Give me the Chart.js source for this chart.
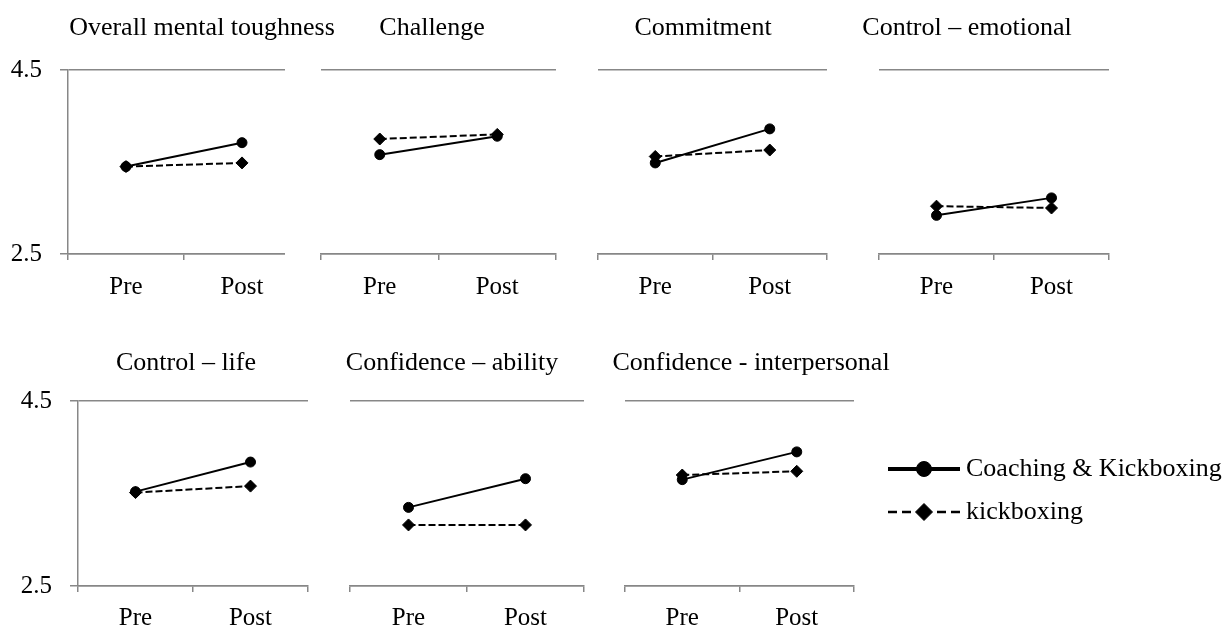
<!DOCTYPE html>
<html>
<head>
<meta charset="utf-8">
<script src="https://cdn.jsdelivr.net/npm/chart.js@4.4.1/dist/chart.umd.min.js"></script>
<style>
  html, body { margin: 0; padding: 0; background: #ffffff; }
  body { width: 1231px; height: 630px; position: relative; overflow: hidden;
         font-family: "Liberation Serif", "Times New Roman", serif; }
  .panel { position: absolute; overflow: hidden; }
  .panel canvas { display: block; }
  .title { position: absolute; font-size: 26px; line-height: 26px; white-space: nowrap;
           color: #000; transform: translateX(-50%); z-index: 2; }
</style>
</head>
<body>
<script>
// ---------------- data ----------------
const panelTitles = [
  "Overall mental toughness", "Challenge", "Commitment", "Control \u2013 emotional",
  "Control \u2013 life", "Confidence \u2013 ability", "Confidence - interpersonal"
];
const timeLabels = ["Pre", "Post"];
const seriesNames = ["Coaching & Kickboxing", "kickboxing"];
// values per panel: [Pre, Post]
const coachingKickboxing = [
  [3.45, 3.71], [3.58, 3.78], [3.49, 3.86], [2.92, 3.11],
  [3.52, 3.84], [3.35, 3.66], [3.65, 3.95]
];
const kickboxingOnly = [
  [3.45, 3.49], [3.75, 3.80], [3.56, 3.63], [3.02, 3.00],
  [3.51, 3.58], [3.16, 3.16], [3.70, 3.74]
];
const yTickValues = [2.5, 4.5];

// ---------------- layout / style ----------------
const AXIS_GREY = '#878787';
const FONT_FAMILY = '"Liberation Serif", "Times New Roman", serif';
const panelLayout = [
  { l: 68,  r: 300,  t: 70,  b: 254, clip: 285, yAxis: true, tc: 202,  tb: 36,  tickPad: 12 },
  { l: 321, r: 556,  t: 70,  b: 254, tc: 432,  tb: 36,  tickPad: 12 },
  { l: 598, r: 827,  t: 70,  b: 254, tc: 703,  tb: 36,  tickPad: 12 },
  { l: 879, r: 1109, t: 70,  b: 254, tc: 967,  tb: 36,  tickPad: 12 },
  { l: 78,  r: 308,  t: 401, b: 586, yAxis: true, tc: 186,  tb: 371, tickPad: 11 },
  { l: 350, r: 584,  t: 401, b: 586, tc: 452,  tb: 371, tickPad: 11 },
  { l: 625, r: 854,  t: 401, b: 586, tc: 751,  tb: 371, tickPad: 11, legend: true }
];
const TOP_PAD = 40, XAXIS_H = 44, SIDE_PAD = 30, PAGE_W = 1231;

const legendStyle = {
  lineStart: 34, lineEnd: 106, textX: 112, rows: [68, 111],
  lineWidths: [4, 2.5], markerRadius: [7.5, 8.5], gap: 11, dash: [9, 5]
};

const sideLegend = {
  id: 'sideLegend',
  afterDraw(chart) {
    const ctx = chart.ctx, ca = chart.chartArea;
    const x0 = ca.right + legendStyle.lineStart, x1 = ca.right + legendStyle.lineEnd;
    const cx = (x0 + x1) / 2;
    chart.data.datasets.forEach((ds, i) => {
      const y = ca.top + legendStyle.rows[i];
      ctx.save();
      ctx.strokeStyle = ds.borderColor;
      ctx.lineWidth = legendStyle.lineWidths[i];
      if (ds.borderDash && ds.borderDash.length) {
        ctx.setLineDash(legendStyle.dash);
        ctx.beginPath(); ctx.moveTo(x0, y); ctx.lineTo(cx - legendStyle.gap, y); ctx.stroke();
        ctx.beginPath(); ctx.moveTo(x1, y); ctx.lineTo(cx + legendStyle.gap, y); ctx.stroke();
      } else {
        ctx.beginPath(); ctx.moveTo(x0, y); ctx.lineTo(x1, y); ctx.stroke();
      }
      ctx.setLineDash([]);
      ctx.fillStyle = ds.pointBackgroundColor;
      ctx.strokeStyle = ds.pointBorderColor;
      ctx.lineWidth = 1;
      Chart.helpers.drawPoint(ctx, {
        pointStyle: ds.pointStyle, radius: legendStyle.markerRadius[i], rotation: 0, borderWidth: 1
      }, cx, y);
      ctx.fillStyle = '#000';
      ctx.font = '26px ' + FONT_FAMILY;
      ctx.textBaseline = 'middle';
      ctx.textAlign = 'left';
      ctx.fillText(ds.label, ca.right + legendStyle.textX, y);
      ctx.restore();
    });
  }
};

panelLayout.forEach((p, i) => {
  // title
  const title = document.createElement('div');
  title.className = 'title';
  title.textContent = panelTitles[i];
  title.style.left = p.tc + 'px';
  title.style.top = (p.tb - 22) + 'px';
  document.body.appendChild(title);

  const padLeft = p.yAxis ? 0 : SIDE_PAD;
  const canvasLeft = p.yAxis ? 0 : p.l - SIDE_PAD;
  const yWidth = p.yAxis ? p.l : 0;
  const padRight = p.legend ? (PAGE_W - p.r) : SIDE_PAD;
  const canvasW = p.r + padRight - canvasLeft;
  const canvasH = TOP_PAD + (p.b - p.t) + XAXIS_H;
  const visibleRight = p.clip ? p.clip : p.r + padRight;

  const wrap = document.createElement('div');
  wrap.className = 'panel';
  wrap.style.left = canvasLeft + 'px';
  wrap.style.top = (p.t - TOP_PAD) + 'px';
  wrap.style.width = (visibleRight - canvasLeft) + 'px';
  wrap.style.height = canvasH + 'px';
  const cv = document.createElement('canvas');
  cv.width = canvasW; cv.height = canvasH;
  cv.style.width = canvasW + 'px'; cv.style.height = canvasH + 'px';
  wrap.appendChild(cv);
  document.body.appendChild(wrap);

  new Chart(cv, {
    type: 'line',
    data: {
      labels: timeLabels,
      datasets: [
        {
          label: seriesNames[0], data: coachingKickboxing[i],
          borderColor: '#000', backgroundColor: '#000', borderWidth: 2,
          pointStyle: 'circle', pointRadius: 5, pointBorderWidth: 1,
          pointBackgroundColor: '#000', pointBorderColor: '#000',
          tension: 0, order: 1, fill: false
        },
        {
          label: seriesNames[1], data: kickboxingOnly[i],
          borderColor: '#000', backgroundColor: '#000', borderWidth: 2, borderDash: [7, 3],
          pointStyle: 'rectRot', pointRadius: 6, pointBorderWidth: 1,
          pointBackgroundColor: '#000', pointBorderColor: '#000',
          tension: 0, order: 0, fill: false
        }
      ]
    },
    options: {
      responsive: false, animation: false, devicePixelRatio: 1, events: [],
      layout: { padding: { top: TOP_PAD, left: padLeft, right: padRight, bottom: 0 } },
      plugins: { legend: { display: false }, title: { display: false }, tooltip: { enabled: false } },
      scales: {
        x: {
          type: 'category', offset: true,
          grid: { offset: true, drawOnChartArea: false, drawTicks: true, tickLength: 6,
                  color: AXIS_GREY, lineWidth: 1.5 },
          border: { display: true, color: AXIS_GREY, width: 1.5 },
          ticks: { color: '#000', font: { family: FONT_FAMILY, size: 25 }, padding: p.tickPad,
                   maxRotation: 0, autoSkip: false },
          afterFit: (s) => { s.height = XAXIS_H; }
        },
        y: {
          type: 'linear', min: yTickValues[0], max: yTickValues[yTickValues.length - 1],
          afterBuildTicks: (s) => { s.ticks = yTickValues.map(v => ({ value: v })); },
          grid: { color: AXIS_GREY, lineWidth: 1.5, drawTicks: !!p.yAxis, tickLength: 8 },
          border: { display: !!p.yAxis, color: AXIS_GREY, width: 1.5 },
          ticks: { display: !!p.yAxis, padding: 18, color: '#000',
                   font: { family: FONT_FAMILY, size: 25 },
                   callback: (v) => Number(v).toFixed(1) },
          afterFit: (s) => { s.width = yWidth; }
        }
      }
    },
    plugins: p.legend ? [sideLegend] : []
  });
});
</script>
</body>
</html>
